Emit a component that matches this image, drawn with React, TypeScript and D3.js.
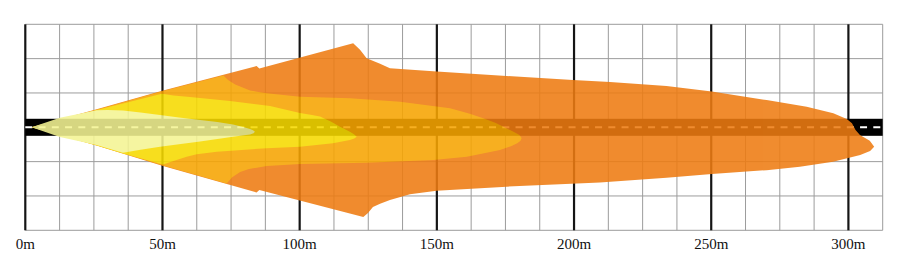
import React from 'react';
import * as d3 from 'd3';

// beam contours: [distance m, lateral m] (left of road = positive)
const orangeContour = [
  [2.3, 0], [26.0, 6.6], [49.9, 13.3], [84.3, 22.3], [85.3, 21.4], [119.5, 30.6],
  [122.0, 28.2], [124.4, 25.1], [129.3, 23.1], [132.9, 21.5], [149.9, 20.3],
  [175.4, 18.7], [199.6, 17.2], [213.1, 16.5], [233.7, 15.0], [250.2, 13.0],
  [270.2, 9.9], [284.8, 7.5], [294.5, 5.1], [299.4, 3.0], [301.3, 1.5], [302.6, -1.0],
  [304.2, -2.8], [307.8, -4.9], [309.4, -7.1], [307.9, -8.6], [304.3, -10.1],
  [294.4, -12.5], [282.3, -14.4], [270.2, -15.6], [250.2, -17.0], [233.7, -18.4],
  [209.4, -20.1], [175.4, -21.6], [149.9, -23.1], [140.2, -24.4], [132.9, -26.5],
  [129.3, -27.8], [126.7, -29.0], [124.9, -31.2], [123.2, -32.7], [85.3, -22.8],
  [84.3, -23.7], [49.9, -14.0], [26.0, -6.6],
];

const goldContour = [
  [2.3, 0], [26.0, 6.4], [49.9, 13.1], [72.2, 18.9], [73.9, 17.2], [76.5, 15.6],
  [81.9, 13.4], [88.0, 12.4], [100.1, 11.1], [118.3, 10.6], [136.6, 9.3],
  [154.8, 6.9], [162.0, 4.9], [166.9, 3.3], [171.5, 1.6], [175.5, -0.4],
  [178.3, -1.8], [180.1, -2.8], [180.9, -3.9], [180.5, -4.9], [179.3, -5.8],
  [177.0, -6.9], [173.0, -8.3], [160.9, -10.7], [148.7, -11.9], [124.4, -12.9],
  [100.1, -13.4], [88.0, -14.1], [81.5, -15.2], [78.3, -16.3], [75.4, -18.2],
  [73.4, -20.5], [49.9, -13.8], [26.0, -6.4],
];

const yellowContour = [
  [2.3, 0], [26.0, 6.3], [35.6, 8.7], [49.8, 12.2], [54.0, 11.6], [60.0, 11.0],
  [74.6, 9.6], [89.2, 7.8], [100.1, 5.2], [104.5, 4.5], [107.4, 3.9], [111.5, 2.0],
  [114.7, 0.2], [116.7, -0.8], [118.3, -1.6], [119.8, -2.5], [120.8, -3.4],
  [119.9, -4.1], [118.3, -4.6], [112.1, -5.8], [100.1, -7.1], [88.0, -7.6],
  [69.8, -8.9], [62.5, -9.8], [58.8, -10.7], [54.0, -12.3], [50.2, -13.5],
  [35.6, -9.5], [26.0, -6.6],
];

const paleContour = [
  [2.3, 0], [12.6, 3.5], [26.0, 6.2], [30.0, 6.3], [35.6, 6.1], [42.0, 5.4],
  [49.1, 4.5], [56.0, 3.6], [63.7, 2.7], [70.0, 1.9], [75.7, 1.0], [79.4, 0.1],
  [81.9, -0.6], [83.0, -1.1], [83.7, -1.6], [83.2, -2.2], [81.9, -2.6],
  [79.0, -3.0], [75.7, -3.4], [63.7, -5.2], [56.0, -6.2], [49.1, -7.1],
  [42.0, -8.2], [35.6, -9.3], [26.0, -6.4], [12.6, -3.5],
];

const xTicks = [0, 50, 100, 150, 200, 250, 300];
const xTickLabels = ['0m', '50m', '100m', '150m', '200m', '250m', '300m'];

const maxDist = 312.5;
const maxLat = 37.5;
const gridStep = 12.5;
const roadHalf = 3.1;

export default function App() {
  const width = 907;
  const height = 270;

  const x = d3.scaleLinear().domain([0, maxDist]).range([25.3, 882.7]);
  const y = d3.scaleLinear().domain([-maxLat, maxLat]).range([230.3, 24.3]);

  const gridX = d3.range(0, maxDist + 0.01, gridStep);
  const gridY = d3.range(-maxLat, maxLat + 0.01, gridStep);

  const outline = d3.line<number[]>()
    .x(d => x(d[0]))
    .y(d => y(d[1]))
    .curve(d3.curveLinearClosed);

  return (
    <svg width={width} height={height} style={{ position: 'absolute', left: 0, top: 0, background: '#fff' }}>
      {/* thin grid */}
      <g stroke="#9c9c9c" strokeWidth={1}>
        {gridX.filter(d => d % 50 !== 0).map(d => (
          <line key={'gx' + d} x1={x(d)} x2={x(d)} y1={y(maxLat)} y2={y(-maxLat)} />
        ))}
        {gridY.map(d => (
          <line key={'gy' + d} x1={x(0)} x2={x(maxDist)} y1={y(d)} y2={y(d)} />
        ))}
      </g>
      {/* thick lines every 50m */}
      <g stroke="#151515" strokeWidth={2.2}>
        {xTicks.map(d => (
          <line key={'tx' + d} x1={x(d)} x2={x(d)} y1={y(maxLat)} y2={y(-maxLat)} />
        ))}
      </g>
      {/* road */}
      <rect x={x(0)} y={y(roadHalf)} width={x(maxDist) - x(0)} height={y(-roadHalf) - y(roadHalf)} fill="#000" />
      <line x1={x(0)} x2={x(maxDist)} y1={y(0)} y2={y(0)} stroke="#fff" strokeWidth={2} strokeDasharray="7,6.25" />
      {/* beam */}
      <g opacity={0.88}>
        <path d={outline(orangeContour) || ''} fill="#ee7c12" />
        <path d={outline(goldContour) || ''} fill="#f7a502" />
        <path d={outline(yellowContour) || ''} fill="#f7da00" />
        <path d={outline(paleContour) || ''} fill="#f4f493" />
      </g>
      {/* labels */}
      <g fontFamily="Liberation Serif, Times New Roman, serif" fontSize={15} fill="#111" textAnchor="middle">
        {xTicks.map((d, i) => (
          <text key={'lb' + d} x={x(d)} y={249}>{xTickLabels[i]}</text>
        ))}
      </g>
    </svg>
  );
}
